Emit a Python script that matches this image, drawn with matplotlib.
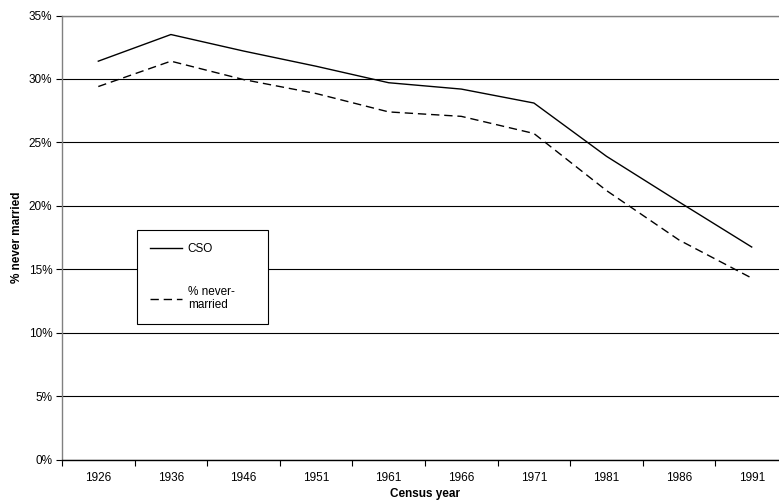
import matplotlib
matplotlib.use("Agg")
import matplotlib.pyplot as plt
import numpy as np

# Census years (categories) and percentage never married
years = ["1926", "1936", "1946", "1951", "1961", "1966", "1971", "1981", "1986", "1991"]
cso = [31.4, 33.5, 32.2, 31.0, 29.7, 29.2, 28.1, 23.9, 20.3, 16.75]
never_married = [29.4, 31.4, 29.95, 28.85, 27.4, 27.05, 25.7, 21.2, 17.3, 14.3]
yticks = [0, 5, 10, 15, 20, 25, 30, 35]

plt.rcParams["font.family"] = ["Liberation Sans", "DejaVu Sans"]
plt.rcParams["font.size"] = 8.5

W, H = 779, 504
fig = plt.figure(figsize=(W / 100, H / 100), dpi=100)

# Axes box in pixel terms: left 62, right 788 (runs past the figure edge), top 15.5, bottom 459.5
ax = fig.add_axes([62 / W, 1 - 459.5 / H, (788 - 62) / W, (459.5 - 15.5) / H])

x = np.arange(len(years))

ax.plot(x, cso, color="black", linewidth=1.0, label="CSO", zorder=3)
ax.plot(x, never_married, color="black", linewidth=1.0, dashes=(6, 3.5),
        label="% never-\nmarried", zorder=3)

# Axis limits and gridlines
ax.set_xlim(-0.5, len(years) - 0.5)
ax.set_ylim(0, 35)
ax.set_yticks(yticks)
ax.set_yticklabels([f"{v}%" for v in yticks])
ax.yaxis.grid(True, color="black", linewidth=0.8, zorder=1)
ax.set_axisbelow(True)

# Category labels sit between tick marks
ax.set_xticks(x)
ax.set_xticklabels(years)
ax.set_xticks(np.arange(len(years) + 1) - 0.5, minor=True)
ax.tick_params(axis="x", which="major", length=0, pad=9)
ax.tick_params(axis="x", which="minor", length=4, width=0.8, direction="out")
ax.tick_params(axis="y", length=4, width=0.8, direction="out", pad=3)

for side in ["top", "left", "right"]:
    ax.spines[side].set_color("#808080")
    ax.spines[side].set_linewidth(1.0)
ax.spines["bottom"].set_color("black")
ax.spines["bottom"].set_linewidth(1.0)

ax.set_xlabel("Census year", fontweight="bold", labelpad=3)
ax.set_ylabel("% never married", fontweight="bold", labelpad=4)

# Legend box in the lower-left of the plot
leg = ax.legend(
    loc="upper left",
    bbox_to_anchor=(137 / W, 1 - 230 / H, 131 / W, 0),
    bbox_transform=fig.transFigure,
    mode="expand",
    borderaxespad=0,
    handlelength=2.7,
    handletextpad=0.5,
    labelspacing=2.6,
    borderpad=1.1,
    fancybox=False,
    framealpha=1,
    edgecolor="black",
)
leg.get_frame().set_linewidth(0.8)
leg.set_zorder(5)

fig.savefig("out.png", dpi=100)
